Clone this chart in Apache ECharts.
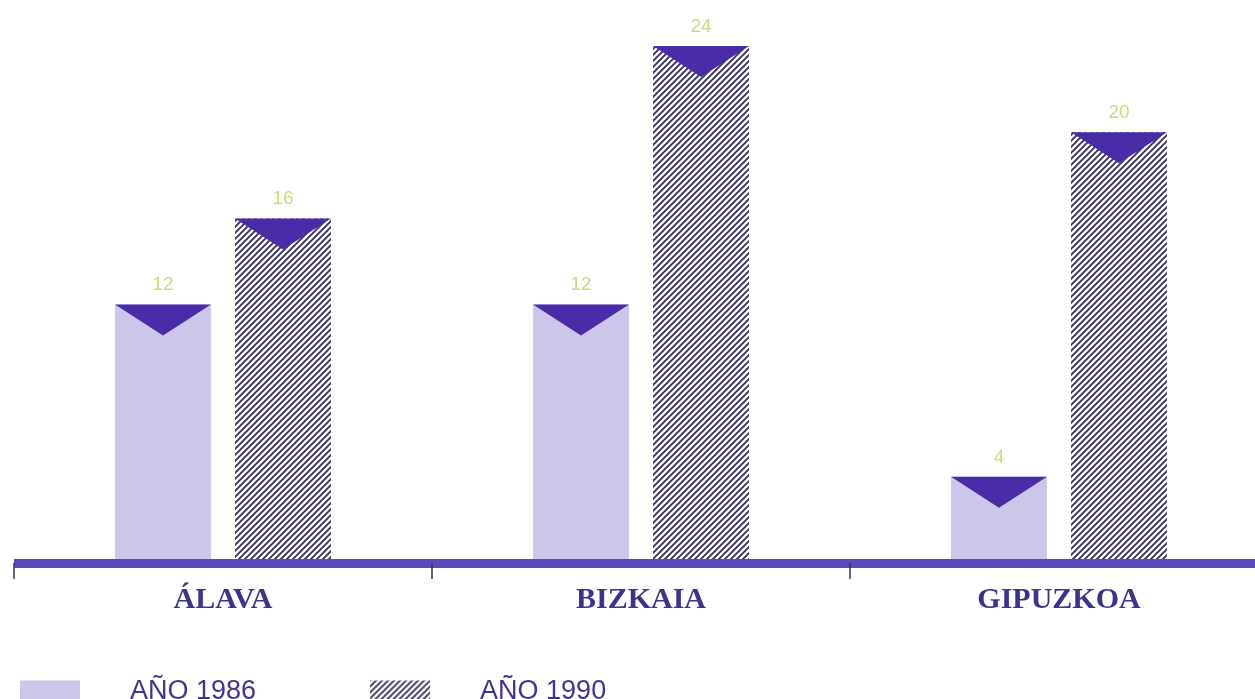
<!DOCTYPE html>
<html>
<head>
<meta charset="utf-8">
<script src="https://cdn.jsdelivr.net/npm/echarts@6/dist/echarts.min.js"></script>
<style>
html,body{margin:0;padding:0;background:#ffffff;}
#chart{width:1255px;height:699px;}
</style>
</head>
<body>
<div id="chart"></div>
<script>
var categories = ['ÁLAVA', 'BIZKAIA', 'GIPUZKOA'];
var seriesNames = ['AÑO 1986', 'AÑO 1990'];
var values1986 = [12, 12, 4];
var values1990 = [16, 24, 20];

function makeHatch() {
  var c = document.createElement('canvas');
  var s = 6;
  c.width = s; c.height = s;
  var ctx = c.getContext('2d');
  ctx.fillStyle = '#ffffff';
  ctx.fillRect(0, 0, s, s);
  ctx.strokeStyle = '#35315e';
  ctx.lineWidth = 1.9;
  ctx.beginPath();
  ctx.moveTo(-1, s + 1); ctx.lineTo(s + 1, -1);
  ctx.moveTo(-1, 1); ctx.lineTo(1, -1);
  ctx.moveTo(s - 1, s + 1); ctx.lineTo(s + 1, s - 1);
  ctx.stroke();
  return c;
}
var hatch = { image: makeHatch(), repeat: 'repeat' };

var barW = 96;
var labelStyle = {
  show: true, position: 'top', distance: 10,
  color: '#cbd97e', fontSize: 19, fontFamily: 'Liberation Sans, Arial, sans-serif'
};
var triStyle = { color: '#4a2ca8' };
var triSymbol = 'path://M0,0L2,0L1,1Z';

var chart = echarts.init(document.getElementById('chart'), null, { renderer: 'canvas' });
chart.setOption({
  backgroundColor: '#ffffff',
  animation: false,
  grid: { left: 14, width: 1254, top: 3, bottom: 136, containLabel: false, outerBoundsMode: 'none' },
  legend: {
    data: seriesNames,
    left: 15, top: 673,
    itemWidth: 60, itemHeight: 22, itemGap: 114,
    icon: 'rect',
    textStyle: {
      color: '#3e3592', fontSize: 27, fontFamily: 'Liberation Sans, Arial, sans-serif',
      padding: [0, 0, 0, 45]
    }
  },
  xAxis: {
    type: 'category', data: categories, z: 10,
    axisLine: { show: true, lineStyle: { color: '#5a49b8', width: 9, cap: 'butt' } },
    axisTick: { show: true, length: 16, lineStyle: { color: '#3a3060', width: 1.5 } },
    axisLabel: {
      margin: 37, verticalAlign: 'middle',
      color: '#3a3490', fontSize: 30, fontWeight: 'bold',
      fontFamily: 'Liberation Serif, Times New Roman, serif'
    }
  },
  yAxis: { type: 'value', min: 0, max: 26, show: false, splitLine: { show: false } },
  series: [
    { name: seriesNames[0], type: 'bar', data: values1986, barWidth: barW, barGap: '25%',
      itemStyle: { color: '#cbc6ea' }, label: labelStyle },
    { name: seriesNames[1], type: 'bar', data: values1990, barWidth: barW, barGap: '25%',
      itemStyle: { color: hatch }, label: labelStyle },
    { name: 'tri86', type: 'pictorialBar', data: values1986, barWidth: barW, barGap: '25%',
      symbol: triSymbol, symbolSize: [barW, 31], symbolPosition: 'end', z: 5,
      itemStyle: triStyle, silent: true },
    { name: 'tri90', type: 'pictorialBar', data: values1990, barWidth: barW, barGap: '25%',
      symbol: triSymbol, symbolSize: [barW, 31], symbolPosition: 'end', z: 5,
      itemStyle: triStyle, silent: true }
  ]
});
</script>
</body>
</html>
